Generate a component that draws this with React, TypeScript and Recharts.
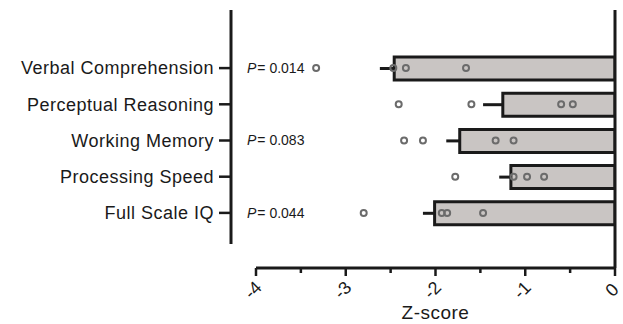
import React from 'react';
import {
  ComposedChart,
  Bar,
  Scatter,
  XAxis,
  YAxis,
  ErrorBar,
  ReferenceLine,
} from 'recharts';

const categories = [
  'Verbal Comprehension',
  'Perceptual Reasoning',
  'Working Memory',
  'Processing Speed',
  'Full Scale IQ',
];
const meanZ = [-2.46, -1.25, -1.73, -1.16, -2.01];
const semZ = [0.16, 0.22, 0.15, 0.13, 0.13];
// individual subject z-scores, one row per category
const subjectZ = [
  [-3.33, -2.47, -2.33, -1.66],
  [-2.41, -1.6, -0.6, -0.47],
  [-2.35, -2.14, -1.33, -1.13],
  [-1.78, -1.13, -0.98, -0.79],
  [-2.8, -1.93, -1.87, -1.47],
];
const pLabels = ['0.014', null, '0.083', null, '0.044'];
const xTicks = [-4, -3.5, -3, -2.5, -2, -1.5, -1, -0.5, 0];

const rows = categories.map((name, i) => ({
  name,
  mean: meanZ[i],
  err: [semZ[i], 0],
  p1: subjectZ[i][0],
  p2: subjectZ[i][1],
  p3: subjectZ[i][2],
  p4: subjectZ[i][3],
}));

const FONT = '"Liberation Sans", Arial, sans-serif';
const INK = '#1a1a1a';

const YTick = (props: any) => {
  const { x, y, payload } = props;
  const idx = props.index ?? categories.indexOf(payload.value);
  const p = pLabels[idx];
  const axisX = x + 17;
  return (
    <g>
      <text x={x} y={y} dy="0.35em" textAnchor="end" fontSize={18} letterSpacing={0.5} fill={INK} fontFamily={FONT}>
        {payload.value}
      </text>
      {p && (
        <text x={axisX + 16} y={y} dy="0.35em" fontSize={14} fill={INK} fontFamily={FONT}>
          <tspan fontStyle="italic">P</tspan>
          <tspan dx={1}>{'= ' + p}</tspan>
        </text>
      )}
    </g>
  );
};

const XTick = (props: any) => {
  const { x, y, payload } = props;
  const v = payload.value;
  const major = Number.isInteger(v);
  const lx = x - 3;
  const ly = y + 22;
  return (
    <g>
      <line x1={x} x2={x} y1={y} y2={y + (major ? 8 : 5)} stroke={INK} strokeWidth={2.5} />
      {major && (
        <text
          x={lx}
          y={ly}
          transform={`rotate(-45, ${lx}, ${ly})`}
          textAnchor="middle"
          dominantBaseline="central"
          fontSize={18}
          fill={INK}
          fontFamily={FONT}
        >
          {v}
        </text>
      )}
    </g>
  );
};

const Dot = (props: any) => (
  <circle cx={props.cx} cy={props.cy} r={3} fill="none" stroke="#6b6b6b" strokeWidth={2} />
);

const XLabel = (props: any) => {
  const { viewBox } = props;
  const cx = viewBox.x + 25 + (viewBox.width - 25) / 2;
  return (
    <text x={cx} y={viewBox.y + viewBox.height - 5} textAnchor="middle" fontSize={19} letterSpacing={0.5} fill={INK} fontFamily={FONT}>
      Z-score
    </text>
  );
};

export default function App() {
  return (
    <div style={{ position: 'absolute', left: 0, top: 0, background: '#fff' }}>
      <ComposedChart
        width={623}
        height={324}
        data={rows}
        layout="vertical"
        margin={{ top: 10, right: 8, bottom: 0, left: 0 }}
      >
        <XAxis
          type="number"
          domain={[-4, 0]}
          ticks={xTicks}
          interval={0}
          allowDataOverflow
          padding={{ left: 25, right: 0 }}
          height={56}
          axisLine={{ stroke: INK, strokeWidth: 3, strokeDasharray: '0 25 400' }}
          tickLine={false}
          tickSize={0}
          tickMargin={0}
          tick={<XTick />}
          label={<XLabel />}
        />
        <YAxis
          type="category"
          dataKey="name"
          width={231}
          padding={{ top: 40, bottom: 37 }}
          axisLine={{ stroke: INK, strokeWidth: 3, strokeDasharray: '234 40' }}
          tickLine={{ stroke: INK, strokeWidth: 2.5 }}
          tickSize={12}
          tickMargin={5}
          tick={<YTick />}
          interval={0}
        />
        <Bar dataKey="mean" barSize={23} fill="#c9c5c3" stroke={INK} strokeWidth={3} isAnimationActive={false}>
          <ErrorBar dataKey="err" direction="x" width={0} stroke={INK} strokeWidth={3} />
        </Bar>
        <ReferenceLine x={0} stroke={INK} strokeWidth={3} />
        <Scatter dataKey="p1" shape={<Dot />} isAnimationActive={false} />
        <Scatter dataKey="p2" shape={<Dot />} isAnimationActive={false} />
        <Scatter dataKey="p3" shape={<Dot />} isAnimationActive={false} />
        <Scatter dataKey="p4" shape={<Dot />} isAnimationActive={false} />
      </ComposedChart>
    </div>
  );
}
